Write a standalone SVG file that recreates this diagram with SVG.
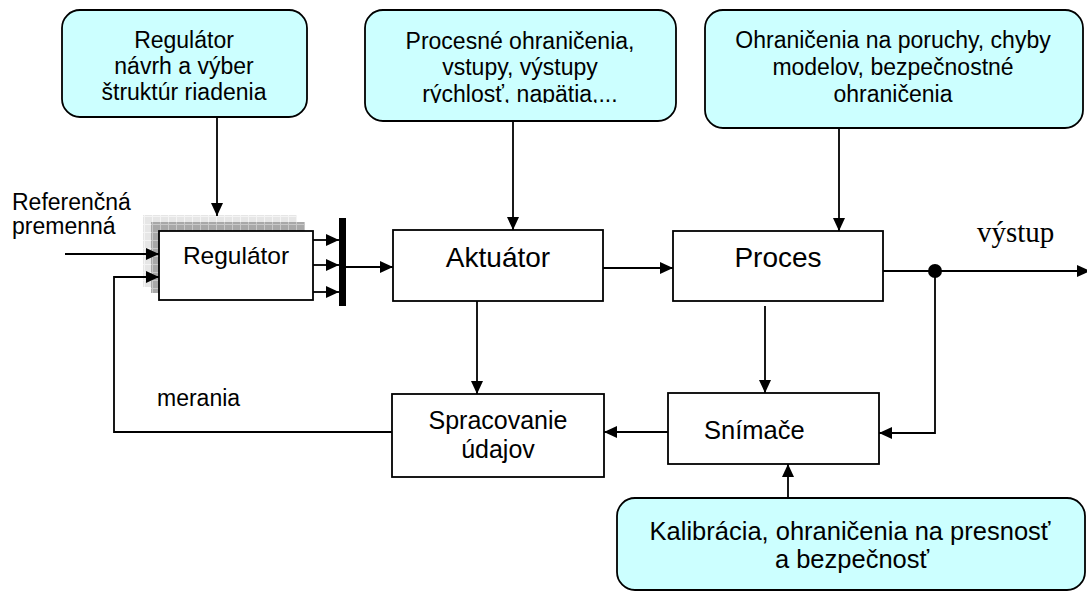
<svg xmlns="http://www.w3.org/2000/svg" width="1087" height="592" viewBox="0 0 1087 592">
<style>
.box{fill:#fff;stroke:#000;stroke-width:1.8}
.call{fill:#ccffff;stroke:#000;stroke-width:1.8}
.t{font-family:"Liberation Sans",Arial,sans-serif;fill:#000}
.c{text-anchor:middle}
.ln{fill:none;stroke:#000;stroke-width:1.8}
</style>
<defs>
<marker id="ah" markerWidth="14" markerHeight="12" refX="13" refY="6" orient="auto" markerUnits="userSpaceOnUse"><path d="M0,0 L13,6 L0,12 z" fill="#000"/></marker>
<pattern id="pd" width="8" height="8" patternUnits="userSpaceOnUse"><rect width="8" height="8" fill="#a8a8a8"/><path d="M0,0.5H8M0.5,0V8" stroke="#c8c8c8" stroke-width="1"/></pattern>
<pattern id="pl" width="8" height="8" patternUnits="userSpaceOnUse"><rect width="8" height="8" fill="#e6e6e6"/><path d="M0,0.5H8M0.5,0V8" stroke="#f4f4f4" stroke-width="1"/></pattern>
<clipPath id="cp2"><rect x="360" y="5" width="320" height="98"/></clipPath>
</defs>

<g id="callout-regulator">
<rect class="call" x="62" y="10" width="245" height="107" rx="18"/>
<text class="t c" font-size="23" x="184" y="48">Regulátor</text>
<text class="t c" font-size="23" x="184" y="74">návrh a výber</text>
<text class="t c" font-size="23" x="184" y="100">štruktúr riadenia</text>
</g>

<g id="callout-procesne">
<rect class="call" x="365" y="10" width="311" height="111" rx="18"/>
<g clip-path="url(#cp2)">
<text class="t c" font-size="23" x="520" y="49">Procesné ohraničenia,</text>
<text class="t c" font-size="23" x="520" y="75">vstupy, výstupy</text>
<text class="t c" font-size="23" x="520" y="102">rýchlosť, napätia,...</text>
</g>
</g>

<g id="callout-poruchy">
<rect class="call" x="705" y="10" width="378" height="118" rx="18"/>
<text class="t c" font-size="23" x="893" y="48">Ohraničenia na poruchy, chyby</text>
<text class="t c" font-size="23" x="893" y="75">modelov, bezpečnostné</text>
<text class="t c" font-size="23" x="893" y="102">ohraničenia</text>
</g>

<g id="callout-kalibracia">
<rect class="call" x="617" y="498" width="468" height="92" rx="18"/>
<text class="t c" font-size="25.5" x="850" y="540">Kalibrácia, ohraničenia na presnosť</text>
<text class="t c" font-size="25.5" x="852" y="568">a bezpečnosť</text>
</g>

<g id="label-referencna">
<text class="t" font-size="23" x="12" y="210">Referenčná</text>
<text class="t" font-size="23" x="12" y="234">premenná</text>
</g>

<g id="regulator">
<rect x="143" y="215" width="154" height="72" fill="url(#pl)"/>
<rect x="151" y="222" width="154" height="71" fill="url(#pd)"/>
<rect class="box" x="159" y="231" width="154" height="69"/>
<text class="t c" font-size="24.5" x="236" y="264">Regulátor</text>
</g>

<g id="bus">
<rect x="339" y="218" width="7" height="88" fill="#000"/>
</g>

<g id="aktuator">
<rect class="box" x="393" y="230" width="210" height="71"/>
<text class="t c" font-size="28" x="498" y="267">Aktuátor</text>
</g>

<g id="proces">
<rect class="box" x="673" y="231" width="210" height="70"/>
<text class="t c" font-size="28" x="778" y="267">Proces</text>
</g>

<g id="label-vystup">
<text font-family="'Liberation Serif','Times New Roman',serif" font-size="29" x="977" y="242">výstup</text>
</g>

<g id="snimace">
<rect class="box" x="668" y="393" width="211" height="71"/>
<text class="t" font-size="25.5" x="704" y="439">Snímače</text>
</g>

<g id="spracovanie">
<rect class="box" x="392" y="394" width="212" height="83"/>
<text class="t c" font-size="25" x="498" y="429">Spracovanie</text>
<text class="t c" font-size="25" x="498" y="458">údajov</text>
</g>

<g id="label-merania">
<text class="t" font-size="23" x="157" y="406">merania</text>
</g>

<g id="connectors">
<path class="ln" d="M217,117 V216" marker-end="url(#ah)"/>
<path class="ln" d="M513,121 V230" marker-end="url(#ah)"/>
<path class="ln" d="M839,128 V231" marker-end="url(#ah)"/>
<path class="ln" d="M65,254 H159" marker-end="url(#ah)"/>
<path class="ln" d="M392,432 H114 V277 H159" marker-end="url(#ah)"/>
<path class="ln" d="M313,240 H339" marker-end="url(#ah)"/>
<path class="ln" d="M313,265 H339" marker-end="url(#ah)"/>
<path class="ln" d="M313,292 H339" marker-end="url(#ah)"/>
<path class="ln" d="M346,267 H393" marker-end="url(#ah)"/>
<path class="ln" d="M603,268 H673" marker-end="url(#ah)"/>
<path class="ln" d="M883,271 H1090" marker-end="url(#ah)"/>
<circle cx="935" cy="271" r="7" fill="#000"/>
<path class="ln" d="M935,271 V433 H879" marker-end="url(#ah)"/>
<path class="ln" d="M765,306 V393" marker-end="url(#ah)"/>
<path class="ln" d="M477,301 V394" marker-end="url(#ah)"/>
<path class="ln" d="M668,432 H604" marker-end="url(#ah)"/>
<path class="ln" d="M788,498 V464" marker-end="url(#ah)"/>
</g>
</svg>
